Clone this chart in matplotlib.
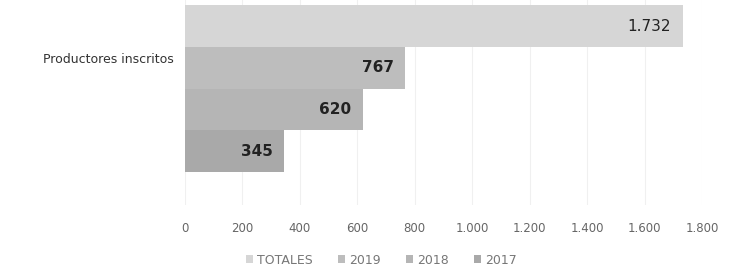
import matplotlib.pyplot as plt

series = ["TOTALES", "2019", "2018", "2017"]
values = [1732, 767, 620, 345]
colors = ["#d6d6d6", "#bdbdbd", "#b5b5b5", "#a9a9a9"]
category = "Productores inscritos"
xticks = [0, 200, 400, 600, 800, 1000, 1200, 1400, 1600, 1800]


def fmt(v):
    return f"{v:,}".replace(",", ".")


fig = plt.figure(figsize=(7.33, 2.75), dpi=100)
ax = fig.add_axes([0.252, 0.2545, 0.706, 0.745])

pos = [3, 2, 1, 0]
for p, name, v, c in zip(pos, series, values, colors):
    ax.barh(p, v, height=1.0, color=c, label=name, zorder=2)
    weight = "normal" if name == "TOTALES" else "bold"
    ax.text(v - 40, p, fmt(v), ha="right", va="center", fontsize=11,
            color="#222222", fontweight=weight, zorder=3)

ax.set_xlim(0, 1800)
ax.set_ylim(-1.29, 3.62)
ax.set_xticks(xticks)
ax.set_xticklabels([fmt(t) for t in xticks], fontsize=8.5, color="#666666")
ax.set_yticks([2.23])
ax.set_yticklabels([category], fontsize=9, color="#333333")
ax.tick_params(length=0, pad=12)
ax.tick_params(axis="y", pad=8)
ax.grid(axis="x", color="#f0f0f0", linewidth=0.8, zorder=0)
for s in ax.spines.values():
    s.set_visible(False)

fig.legend(loc="lower center", bbox_to_anchor=(0.52, -0.01), ncol=4, frameon=False,
           fontsize=9, handlelength=0.6, handleheight=0.6, handletextpad=0.3,
           columnspacing=2.0, labelcolor="#777777")

fig.savefig("out.png", dpi=100)
